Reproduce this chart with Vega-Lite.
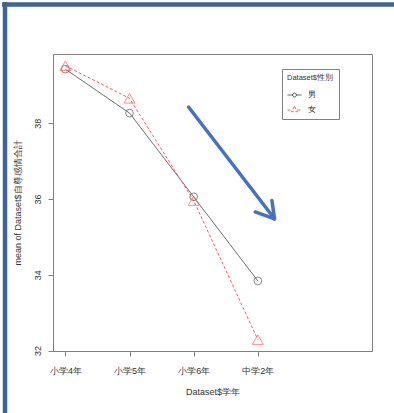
{
  "$schema": "https://vega.github.io/schema/vega-lite/v6.json",
  "width": 319,
  "height": 297,
  "autosize": {"type": "none"},
  "padding": {"left": 53, "top": 54, "right": 22, "bottom": 62},
  "background": "white",
  "title": {"text": "Plot of Means", "fontSize": 11.5, "font": "Liberation Sans", "fontWeight": "bold", "color": "#222", "anchor": "middle", "offset": 14},
  "config": {
    "view": {"stroke": "#808080", "strokeWidth": 1},
    "font": "Liberation Sans",
    "axis": {"domain": false, "grid": false, "tickColor": "#808080", "tickSize": 5, "labelFont": "Liberation Sans", "labelFontSize": 9, "labelColor": "#333", "titleFont": "Liberation Sans", "titleFontSize": 9, "titleFontWeight": "normal", "titleColor": "#333"}
  },
  "datasets": {
    "means": [
      {"学年": "小学4年", "順": 1, "性別": "男", "平均": 39.43},
      {"学年": "小学5年", "順": 2, "性別": "男", "平均": 38.27},
      {"学年": "小学6年", "順": 3, "性別": "男", "平均": 36.06},
      {"学年": "中学2年", "順": 4, "性別": "男", "平均": 33.84},
      {"学年": "小学4年", "順": 1, "性別": "女", "平均": 39.52},
      {"学年": "小学5年", "順": 2, "性別": "女", "平均": 38.66},
      {"学年": "小学6年", "順": 3, "性別": "女", "平均": 35.96},
      {"学年": "中学2年", "順": 4, "性別": "女", "平均": 32.29}
    ],
    "arrow": [
      {"x": 2.92, "y": 38.43, "x2": 4.26, "y2": 35.48},
      {"x": 3.96, "y": 35.66, "x2": 4.26, "y2": 35.48},
      {"x": 4.22, "y": 35.96, "x2": 4.26, "y2": 35.48}
    ],
    "frame": [
      {"x": 0.059, "y": 30.3, "x2": 0.059, "y2": 41.2},
      {"x": 0.013, "y": 41.135, "x2": 6.2, "y2": 41.135}
    ]
  },
  "layer": [
    {
      "data": {"name": "means"},
      "mark": {"type": "line", "strokeWidth": 1},
      "encoding": {
        "x": {"field": "順", "type": "quantitative", "scale": {"domain": [0.807, 5.78], "nice": false, "zero": false},
              "axis": {"values": [1, 2, 3, 4], "labelExpr": "['小学4年','小学5年','小学6年','中学2年'][datum.value-1]", "labelPadding": 10, "title": "Dataset$学年", "titlePadding": 12}},
        "y": {"field": "平均", "type": "quantitative", "scale": {"domain": [31.99, 39.83], "nice": false, "zero": false},
              "axis": {"values": [32, 34, 36, 38], "labelAngle": 270, "labelAlign": "center", "labelBaseline": "bottom", "labelPadding": 6, "title": "mean of Dataset$自尊感情合計", "titlePadding": 11}},
        "color": {"field": "性別", "type": "nominal", "scale": {"domain": ["男", "女"], "range": ["#555555", "#ff5a5a"]},
                  "legend": {"title": "Dataset$性別", "orient": "none", "legendX": 229, "legendY": 15, "titleFontSize": 7.5, "titleFontWeight": "normal", "titleColor": "#333", "labelFontSize": 8, "labelColor": "#222", "padding": 5, "strokeColor": "#808080", "symbolSize": 196, "symbolStrokeWidth": 1, "rowPadding": 3, "titlePadding": 6, "labelOffset": 6,
                    "encode": {
                      "symbols": {"update": {"shape": {"signal": "datum.value == '男' ? 'M-1,0L-0.28,0M0.28,0L1,0M-0.28,0A0.28,0.28 0 1 1 0.28,0A0.28,0.28 0 1 1 -0.28,0' : 'M-1,0L-0.4,0M0.4,0L1,0M0,-0.5L0.43,0.25L-0.43,0.25Z'"}, "fill": {"value": "transparent"}}}
                    }}},
        "strokeDash": {"field": "性別", "type": "nominal", "scale": {"domain": ["男", "女"], "range": [[1, 0], [3, 2]]}, "legend": null}
      }
    },
    {
      "data": {"name": "means"},
      "mark": {"type": "point", "filled": false, "strokeWidth": 1},
      "encoding": {
        "x": {"field": "順", "type": "quantitative"},
        "y": {"field": "平均", "type": "quantitative"},
        "stroke": {"condition": {"test": "datum['性別'] == '男'", "value": "#555555"}, "value": "#ff5a5a"},
        "shape": {"condition": {"test": "datum['性別'] == '男'", "value": "circle"}, "value": "triangle-up"},
        "size": {"condition": {"test": "datum['性別'] == '男'", "value": 60}, "value": 120}
      }
    },
    {
      "data": {"name": "arrow"},
      "mark": {"type": "rule", "color": "#4472c4", "strokeWidth": 3.5, "strokeCap": "round"},
      "encoding": {
        "x": {"field": "x", "type": "quantitative"},
        "y": {"field": "y", "type": "quantitative"},
        "x2": {"field": "x2"},
        "y2": {"field": "y2"}
      }
    },
    {
      "data": {"name": "frame"},
      "mark": {"type": "rule", "color": "#3c639c", "strokeWidth": 4.5, "clip": false},
      "encoding": {
        "x": {"field": "x", "type": "quantitative"},
        "y": {"field": "y", "type": "quantitative"},
        "x2": {"field": "x2"},
        "y2": {"field": "y2"}
      }
    }
  ]
}
